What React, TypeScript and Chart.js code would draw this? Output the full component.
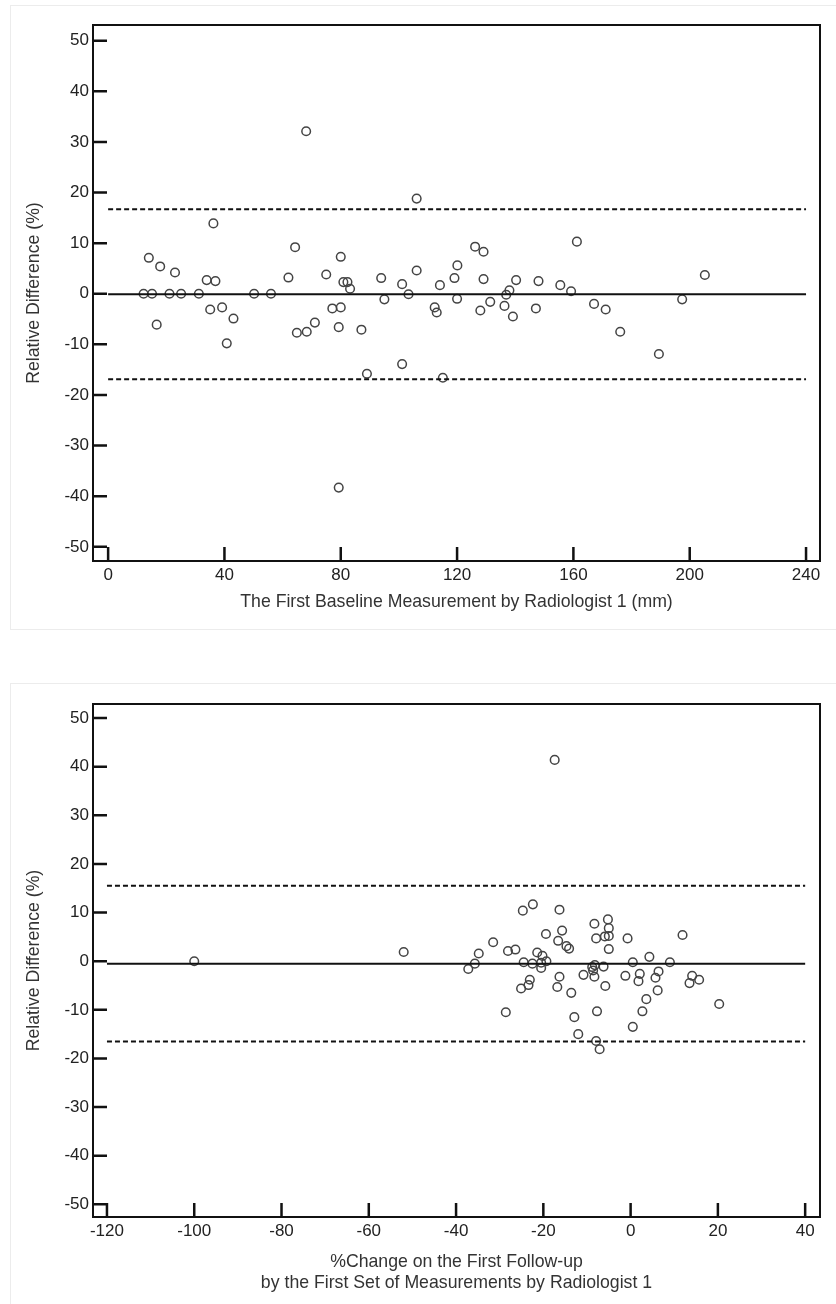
import React, { useEffect, useRef } from "react";
import { Chart, registerables } from "chart.js";

Chart.register(...registerables);

// ---------- Chart 1: baseline measurement vs relative difference ----------
const baselineX = [
  12.2, 15.1, 21.1, 25.1, 31.2, 50.2, 56.0,
  14.0, 17.9, 16.7, 23.0, 33.9, 36.9, 36.2, 35.1, 39.2, 43.1, 40.8,
  62.0, 64.3, 64.9, 68.3, 68.1, 71.1, 75.0, 77.1, 80.0, 80.0, 79.3, 80.9, 82.3, 83.2, 79.3,
  87.1, 89.0, 93.9, 95.0, 101.1, 101.1, 103.3, 106.1, 106.1, 112.3, 113.0, 114.1, 115.1, 119.1, 120.1, 120.0,
  126.2, 129.1, 129.1, 128.0, 131.4, 136.3, 136.9, 138.0, 139.2, 140.3, 147.1, 148.0, 155.5, 159.2, 161.2,
  167.1, 171.1, 176.1, 189.4, 197.4, 205.2,
];
const baselineDiff = [
  0, 0, 0, 0, 0, 0, 0,
  7.1, 5.4, -6.1, 4.2, 2.7, 2.5, 13.9, -3.1, -2.7, -4.9, -9.8,
  3.2, 9.2, -7.7, -7.5, 32.1, -5.7, 3.8, -2.9, 7.3, -2.7, -6.6, 2.3, 2.3, 1.0, -38.3,
  -7.1, -15.8, 3.1, -1.1, 1.9, -13.9, -0.1, 18.8, 4.6, -2.7, -3.7, 1.7, -16.6, 3.1, 5.6, -1.0,
  9.3, 8.3, 2.9, -3.3, -1.6, -2.4, -0.2, 0.7, -4.5, 2.7, -2.9, 2.5, 1.7, 0.5, 10.3,
  -2.0, -3.1, -7.5, -11.9, -1.1, 3.7,
];
const mean1 = -0.1;
const upper1 = 16.7;
const lower1 = -16.9;
const xTicks1 = [0, 40, 80, 120, 160, 200, 240];

// ---------- Chart 2: % change vs relative difference ----------
const changeX = [
  -100, -52, -37.2, -35.7, -34.8, -31.5, -28.6, -28.1, -26.4, -25.1,
  -24.7, -24.5, -23.4, -23.1, -22.5, -22.4, -21.4, -20.5, -20.2, -20.5,
  -19.4, -19.3, -16.3, -15.7, -16.6, -14.7, -14.1, -16.3, -16.8, -13.6,
  -12.9, -12.0, -10.8, -8.8, -8.2, -8.6, -8.3, -6.2, -8.3, -7.9,
  -5.2, -5.0, -5.0, -5.9, -5.0, -5.8, -7.7, -7.9, -7.1, -1.2,
  -0.7, 0.5, 0.5, 2.1, 1.8, 2.7, 3.6, 4.3, 5.7, 6.4,
  6.2, 9.0, 11.9, 13.5, 14.1, 15.7, 20.3, -17.4,
];
const changeDiff = [
  0, 1.9, -1.6, -0.5, 1.6, 3.9, -10.5, 2.1, 2.4, -5.6,
  10.4, -0.2, -4.9, -3.8, -0.5, 11.7, 1.8, -0.3, 1.1, -1.4,
  5.6, 0, 10.6, 6.3, 4.2, 3.1, 2.6, -3.2, -5.3, -6.5,
  -11.5, -15.0, -2.8, -1.2, -0.8, -1.9, -3.2, -1.1, 7.7, 4.7,
  8.6, 6.8, 5.2, 5.1, 2.5, -5.1, -10.3, -16.4, -18.1, -3.0,
  4.7, -0.2, -13.5, -2.6, -4.1, -10.3, -7.8, 0.9, -3.4, -2.1,
  -6.0, -0.2, 5.4, -4.5, -3.0, -3.8, -8.8, 41.4,
];
const mean2 = -0.5;
const upper2 = 15.5;
const lower2 = -16.5;
const xTicks2 = [-120, -100, -80, -60, -40, -20, 0, 20, 40];

const yTicks = [-50, -40, -30, -20, -10, 0, 10, 20, 30, 40, 50];
const yTitle = "Relative Difference (%)";
const xTitle1 = "The First Baseline Measurement by Radiologist 1 (mm)";
const xTitle2 = ["%Change on the First Follow-up", "by the First Set of Measurements by Radiologist 1"];

const FONT = "'Liberation Sans', Arial, sans-serif";

const framePlugin = {
  id: "frameTicks",
  afterDatasetsDraw(chart: any) {
    const { ctx, chartArea, scales } = chart;
    const { left, right, top, bottom } = chartArea;
    ctx.save();
    ctx.strokeStyle = "#111";
    ctx.lineWidth = 2;
    ctx.strokeRect(left, top, right - left, bottom - top);
    ctx.lineWidth = 2.5;
    ctx.beginPath();
    for (const t of scales.y.ticks) {
      const p = scales.y.getPixelForValue(t.value);
      ctx.moveTo(left, p);
      ctx.lineTo(left + 14, p);
    }
    for (const t of scales.x.ticks) {
      const p = scales.x.getPixelForValue(t.value);
      ctx.moveTo(p, bottom);
      ctx.lineTo(p, bottom - 14);
    }
    ctx.stroke();
    ctx.restore();
  },
};

type Cfg = {
  xs: number[];
  ys: number[];
  mean: number;
  upper: number;
  lower: number;
  xTicks: number[];
  xMin: number;
  xMax: number;
  yMin: number;
  yMax: number;
  xTitle: string | string[];
  width: number;
  height: number;
  padTop: number;
  xAxisHeight: number;
  xTitlePad: number;
};

function BlandAltman({ cfg }: { cfg: Cfg }) {
  const ref = useRef<HTMLCanvasElement | null>(null);
  useEffect(() => {
    if (!ref.current) return;
    const x0 = cfg.xTicks[0];
    const x1 = cfg.xTicks[cfg.xTicks.length - 1];
    const line = (y: number, dash: number[]) => ({
      type: "scatter" as const,
      data: [
        { x: x0, y },
        { x: x1, y },
      ],
      showLine: true,
      borderColor: "#111",
      borderWidth: 2,
      borderDash: dash,
      pointRadius: 0,
      fill: false,
    });
    const chart = new Chart(ref.current, {
      type: "scatter",
      data: {
        datasets: [
          line(cfg.mean, []),
          line(cfg.upper, [5, 3]),
          line(cfg.lower, [5, 3]),
          {
            data: cfg.xs.map((x, i) => ({ x, y: cfg.ys[i] })),
            pointStyle: "circle",
            pointRadius: 4.3,
            pointBorderWidth: 1.5,
            pointBorderColor: "#444",
            pointBackgroundColor: "rgba(0,0,0,0)",
            showLine: false,
          } as any,
        ],
      },
      options: {
        animation: false,
        responsive: false,
        devicePixelRatio: 1,
        layout: { padding: { top: cfg.padTop, right: 16, left: 0, bottom: 0 } },
        plugins: { legend: { display: false }, tooltip: { enabled: false } },
        scales: {
          x: {
            type: "linear",
            min: cfg.xMin,
            max: cfg.xMax,
            grid: { display: false, drawTicks: false },
            border: { display: false },
            afterBuildTicks: (s: any) => {
              s.ticks = cfg.xTicks.map((v) => ({ value: v }));
            },
            afterFit: (s: any) => {
              s.height = cfg.xAxisHeight;
            },
            ticks: {
              padding: 4,
              color: "#222",
              font: { family: FONT, size: 17 },
              maxRotation: 0,
              autoSkip: false,
            },
            title: {
              display: true,
              text: cfg.xTitle,
              color: "#333",
              font: { family: FONT, size: 17.7 },
              padding: { top: 0, bottom: cfg.xTitlePad },
            },
          },
          y: {
            type: "linear",
            min: cfg.yMin,
            max: cfg.yMax,
            grid: { display: false, drawTicks: false },
            border: { display: false },
            afterBuildTicks: (s: any) => {
              s.ticks = yTicks.map((v) => ({ value: v }));
            },
            afterFit: (s: any) => {
              s.width = 93;
            },
            ticks: {
              padding: 4,
              color: "#222",
              font: { family: FONT, size: 17 },
              autoSkip: false,
            },
            title: {
              display: true,
              text: yTitle,
              color: "#333",
              font: { family: FONT, size: 17.7 },
              padding: { top: 23.4, bottom: 0 },
            },
          },
        },
      } as any,
      plugins: [framePlugin],
    });
    return () => chart.destroy();
  }, [cfg]);
  return <canvas ref={ref} width={cfg.width} height={cfg.height} style={{ display: "block" }} />;
}

const cfg1: Cfg = {
  xs: baselineX,
  ys: baselineDiff,
  mean: mean1,
  upper: upper1,
  lower: lower1,
  xTicks: xTicks1,
  xMin: -5.2,
  xMax: 244.8,
  yMin: -52.8,
  yMax: 53.1,
  xTitle: xTitle1,
  width: 836,
  height: 640,
  padTop: 25,
  xAxisHeight: 79,
  xTitlePad: 27.4,
};

const cfg2: Cfg = {
  xs: changeX,
  ys: changeDiff,
  mean: mean2,
  upper: upper2,
  lower: lower2,
  xTicks: xTicks2,
  xMin: -123.2,
  xMax: 43.4,
  yMin: -52.6,
  yMax: 52.9,
  xTitle: xTitle2,
  width: 836,
  height: 644,
  padTop: 44,
  xAxisHeight: 87,
  xTitlePad: 10.2,
};

export default function App() {
  return (
    <div
      style={{
        position: "absolute",
        left: 0,
        top: 0,
        width: 836,
        height: 1304,
        overflow: "hidden",
        background: "#fff",
      }}
    >
      <div
        style={{
          position: "absolute",
          left: 10,
          top: 5,
          width: 840,
          height: 623,
          border: "1px solid #ececec",
        }}
      />
      <div
        style={{
          position: "absolute",
          left: 10,
          top: 683,
          width: 840,
          height: 640,
          border: "1px solid #ececec",
        }}
      />
      <div style={{ position: "absolute", left: 0, top: 0 }}>
        <BlandAltman cfg={cfg1} />
      </div>
      <div style={{ position: "absolute", left: 0, top: 660 }}>
        <BlandAltman cfg={cfg2} />
      </div>
    </div>
  );
}
